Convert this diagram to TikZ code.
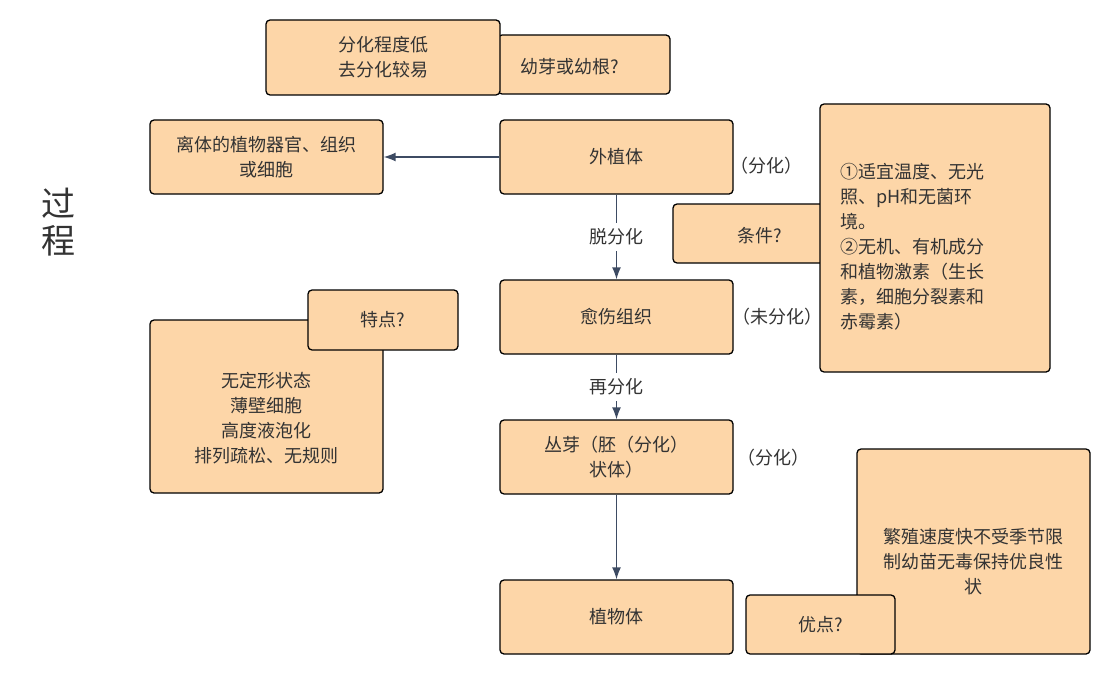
\documentclass[tikz,border=0pt]{standalone}
\usepackage{fontspec}
\setmainfont{Noto Sans CJK SC}
\usetikzlibrary{arrows.meta}
\definecolor{peach}{HTML}{FDD6A8}
\definecolor{txt}{HTML}{333333}
\definecolor{arr}{HTML}{3D4B63}
\tikzset{
  box/.style={draw=black, line width=1.3pt, fill=peach, rounded corners=4pt,
    inner sep=0pt, align=center, text=txt},
  lbl/.style={text=txt, inner sep=1pt, align=center},
  conn/.style={draw=arr, line width=1.4pt, -{Latex[length=12pt,width=9pt]}},
}
\begin{document}
\begin{tikzpicture}[x=1pt,y=-1pt,font=\fontsize{18}{25}\selectfont]
\useasboundingbox (0,0) rectangle (1110,674);
% title
\node[lbl, font=\fontsize{34}{37}\selectfont] (title) at (58,222) {过\\程};
% top boxes
\node[box, minimum width=172pt, minimum height=59pt] (youya) at (584,64.5) {};
\node[lbl] (youyat) at (570,67) {幼芽或幼根?};
\node[box, minimum width=234pt, minimum height=75pt] (fenhua) at (383,57.5) {分化程度低\\去分化较易};
% left top
\node[box, minimum width=233pt, minimum height=74pt] (liti) at (266.5,157) {离体的植物器官、组织\\或细胞};
% main column
\node[box, minimum width=233pt, minimum height=74pt] (wai) at (616.5,157) {外植体};
\node[box, minimum width=233pt, minimum height=74pt] (yu) at (616.5,317) {愈伤组织};
\node[box, minimum width=233pt, minimum height=74pt] (cong) at (616.5,457) {丛芽（胚（分化）\\状体）};
\node[box, minimum width=233pt, minimum height=74pt] (zhi) at (616.5,617) {植物体};
% condition
\node[box, minimum width=174pt, minimum height=59pt] (tiaojian) at (760,233.5) {};
\node[lbl] (tiaojiant) at (760,236) {条件?};
\node[box, minimum width=230pt, minimum height=268pt] (cond) at (935,238) {};
\node[lbl, anchor=west, align=left] (condt) at (839,247) {①适宜温度、无光\\照、pH和无菌环\\境。\\②无机、有机成分\\和植物激素（生长\\素，细胞分裂素和\\赤霉素）};
% features
\node[box, minimum width=233pt, minimum height=173pt] (feat) at (266.5,406.5) {};
\node[lbl] (featt) at (266.5,418) {无定形状态\\薄壁细胞\\高度液泡化\\排列疏松、无规则};
\node[box, minimum width=150pt, minimum height=60pt] (tedian) at (383,320) {特点?};
% advantages
\node[box, minimum width=233pt, minimum height=205pt] (adv) at (973.5,551.5) {};
\node[lbl] (advt) at (973.5,562) {繁殖速度快不受季节限\\制幼苗无毒保持优良性\\状};
\node[box, minimum width=149pt, minimum height=59pt] (youdian) at (820.5,624.5) {优点?};
% side labels
\node[lbl] (f1) at (766,166) {（分化）};
\node[lbl] (f2) at (777,317) {（未分化）};
\node[lbl] (f3) at (773,458) {（分化）};
% connectors
\draw[conn] (wai.west) -- (liti.east);
\draw[conn] (wai.south) -- node[lbl, fill=white, inner ysep=6pt] (tuo) {脱分化} (yu.north);
\draw[conn] (yu.south) -- node[lbl, fill=white, inner ysep=6pt] (zai) {再分化} (cong.north);
\draw[conn] (cong.south) -- (zhi.north);
\end{tikzpicture}
\end{document}
